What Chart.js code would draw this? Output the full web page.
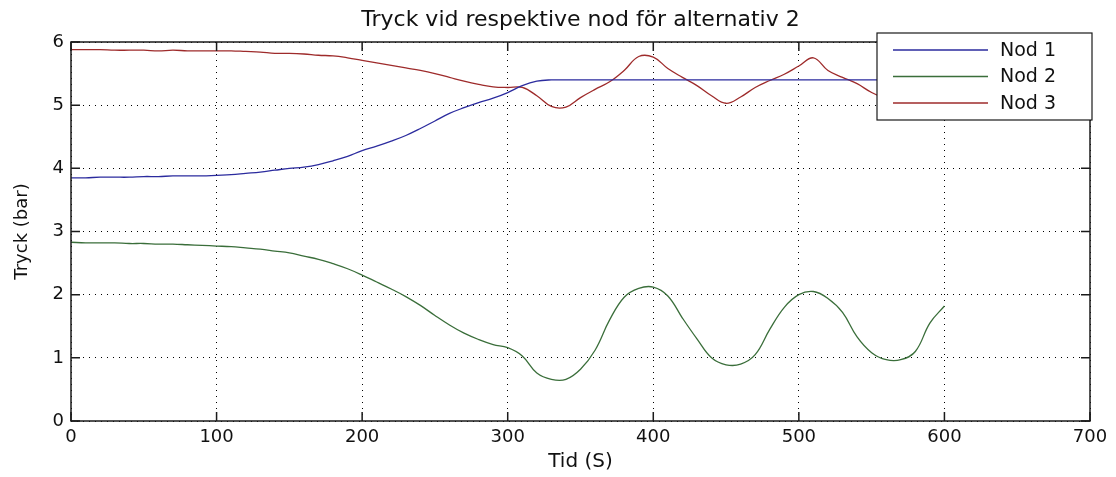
<!DOCTYPE html>
<html>
<head>
<meta charset="utf-8">
<script src="https://cdn.jsdelivr.net/npm/chart.js@4/dist/chart.umd.min.js"></script>
<style>
  html, body { margin: 0; padding: 0; background: #fff; }
  #wrap { width: 1116px; height: 477px; }
</style>
</head>
<body>
<div id="wrap"><canvas id="chartTryck" width="1116" height="477"></canvas></div>
<script>
const titleText = "Tryck vid respektive nod för alternativ 2";
const xLabel = "Tid (S)";
const yLabel = "Tryck (bar)";
const seriesNames = ["Nod 1", "Nod 2", "Nod 3"];
const seriesColors = ["#2b2b9e", "#3a6e3a", "#9e2b2b"];

// time (s), one sample every 10 s
const tid = [
    0, 10, 20, 30, 40, 50, 60, 70, 80, 90,
    100, 110, 120, 130, 140, 150, 160, 170, 180, 190,
    200, 210, 220, 230, 240, 250, 260, 270, 280, 290,
    300, 310, 320, 330, 340, 350, 360, 370, 380, 390,
    400, 410, 420, 430, 440, 450, 460, 470, 480, 490,
    500, 510, 520, 530, 540, 550, 560, 570, 580, 590,
    600
];

const nod1 = [
    3.85, 3.85, 3.86, 3.86, 3.86, 3.87, 3.87, 3.88, 3.88, 3.88,
    3.89, 3.90, 3.92, 3.94, 3.97, 4.00, 4.02, 4.06, 4.12, 4.19,
    4.28, 4.35, 4.43, 4.52, 4.63, 4.75, 4.87, 4.96, 5.04, 5.11,
    5.20, 5.31, 5.38, 5.40, 5.40, 5.40, 5.40, 5.40, 5.40, 5.40,
    5.40, 5.40, 5.40, 5.40, 5.40, 5.40, 5.40, 5.40, 5.40, 5.40,
    5.40, 5.40, 5.40, 5.40, 5.40, 5.40, 5.40, 5.40, 5.40, 5.40,
    5.40
];

const nod2 = [
    2.83, 2.82, 2.82, 2.82, 2.81, 2.81, 2.80, 2.80, 2.79, 2.78,
    2.77, 2.76, 2.74, 2.72, 2.69, 2.66, 2.61, 2.56, 2.49, 2.41,
    2.31, 2.20, 2.09, 1.97, 1.83, 1.67, 1.52, 1.39, 1.29, 1.21,
    1.16, 1.03, 0.76, 0.66, 0.66, 0.82, 1.12, 1.60, 1.96, 2.10,
    2.12, 1.98, 1.63, 1.30, 1.00, 0.89, 0.90, 1.05, 1.45, 1.80,
    2.00, 2.05, 1.94, 1.72, 1.33, 1.08, 0.97, 0.97, 1.10, 1.55,
    1.82
];

const nod3 = [
    5.88, 5.88, 5.88, 5.87, 5.87, 5.87, 5.86, 5.87, 5.86, 5.86,
    5.86, 5.86, 5.85, 5.84, 5.82, 5.82, 5.81, 5.79, 5.78, 5.75,
    5.71, 5.67, 5.63, 5.59, 5.55, 5.50, 5.44, 5.38, 5.33, 5.29,
    5.28, 5.28, 5.15, 4.98, 4.97, 5.12, 5.25, 5.37, 5.55, 5.77,
    5.76, 5.58, 5.44, 5.31, 5.15, 5.03, 5.13, 5.28, 5.39, 5.49,
    5.62, 5.75, 5.55, 5.44, 5.34, 5.20, 5.10, 5.05, 5.12, 5.25,
    5.35
];

const xTicks = [0, 100, 200, 300, 400, 500, 600, 700];
const yTicks = [0, 1, 2, 3, 4, 5, 6];

const fontFamily = "'DejaVu Sans', Verdana, sans-serif";

function toPoints(values) {
    return tid.map((t, i) => ({ x: t, y: values[i] }));
}

// title, box with inward ticks and legend, drawn the MATLAB way
const matlabFrame = {
    id: 'matlabFrame',
    afterDraw(chart) {
        const { ctx, chartArea: a, scales } = chart;
        ctx.save();

        ctx.fillStyle = '#111';
        ctx.font = "22px " + fontFamily;
        ctx.textAlign = 'center';
        ctx.textBaseline = 'middle';
        ctx.fillText(titleText, (a.left + a.right) / 2, 20);

        ctx.strokeStyle = '#1a1a1a';
        ctx.lineWidth = 1.5;
        ctx.strokeRect(a.left, a.top, a.right - a.left, a.bottom - a.top);

        const tl = 9;
        ctx.beginPath();
        xTicks.forEach(v => {
            const px = scales.x.getPixelForValue(v);
            ctx.moveTo(px, a.bottom); ctx.lineTo(px, a.bottom - tl);
            ctx.moveTo(px, a.top); ctx.lineTo(px, a.top + tl);
        });
        yTicks.forEach(v => {
            const py = scales.y.getPixelForValue(v);
            ctx.moveTo(a.left, py); ctx.lineTo(a.left + tl, py);
            ctx.moveTo(a.right, py); ctx.lineTo(a.right - tl, py);
        });
        ctx.stroke();

        // legend box
        const bw = 215, bh = 87;
        const bx = a.right + 2 - bw, by = a.top - 9;
        ctx.fillStyle = '#fff';
        ctx.fillRect(bx, by, bw, bh);
        ctx.lineWidth = 1.2;
        ctx.strokeStyle = '#1a1a1a';
        ctx.strokeRect(bx, by, bw, bh);

        ctx.font = "19px " + fontFamily;
        ctx.textAlign = 'left';
        chart.data.datasets.forEach((ds, i) => {
            const ly = by + 17 + i * 26.5;
            ctx.strokeStyle = ds.borderColor;
            ctx.lineWidth = 1.5;
            ctx.beginPath();
            ctx.moveTo(bx + 16, ly);
            ctx.lineTo(bx + 111, ly);
            ctx.stroke();
            ctx.fillStyle = '#111';
            ctx.fillText(ds.label, bx + 123, ly + 1);
        });
        ctx.restore();
    }
};

const ctx = document.getElementById("chartTryck").getContext('2d');
new Chart(ctx, {
    type: "line",
    data: {
        datasets: [nod1, nod2, nod3].map((vals, i) => ({
            label: seriesNames[i],
            data: toPoints(vals),
            borderColor: seriesColors[i],
            borderWidth: 1.3,
            pointRadius: 0,
            fill: false,
            tension: 0.4
        }))
    },
    options: {
        responsive: false,
        animation: false,
        devicePixelRatio: 1,
        layout: { padding: { top: 42, right: 26, left: 0, bottom: 0 } },
        plugins: {
            legend: { display: false },
            title: { display: false },
            tooltip: { enabled: false }
        },
        scales: {
            x: {
                type: 'linear',
                min: 0,
                max: 700,
                afterFit: s => { s.height = 56; },
                afterBuildTicks: s => { s.ticks = xTicks.map(v => ({ value: v })); },
                ticks: {
                    color: '#111',
                    padding: 6,
                    maxRotation: 0,
                    font: { family: fontFamily, size: 18 }
                },
                grid: { color: '#000', lineWidth: 1, drawTicks: false },
                border: { display: false, dash: [1, 5] },
                title: {
                    display: true,
                    text: xLabel,
                    color: '#111',
                    padding: { top: 0, bottom: 3 },
                    font: { family: fontFamily, size: 20 }
                }
            },
            y: {
                type: 'linear',
                min: 0,
                max: 6,
                afterFit: s => { s.width = 71; },
                afterBuildTicks: s => { s.ticks = yTicks.map(v => ({ value: v })); },
                ticks: {
                    color: '#111',
                    padding: 7,
                    font: { family: fontFamily, size: 18 }
                },
                grid: { color: '#000', lineWidth: 1, drawTicks: false },
                border: { display: false, dash: [1, 5] },
                title: {
                    display: true,
                    text: yLabel,
                    color: '#111',
                    padding: { top: 12, bottom: 0 },
                    font: { family: fontFamily, size: 18 }
                }
            }
        }
    },
    plugins: [matlabFrame]
});
</script>
</body>
</html>
